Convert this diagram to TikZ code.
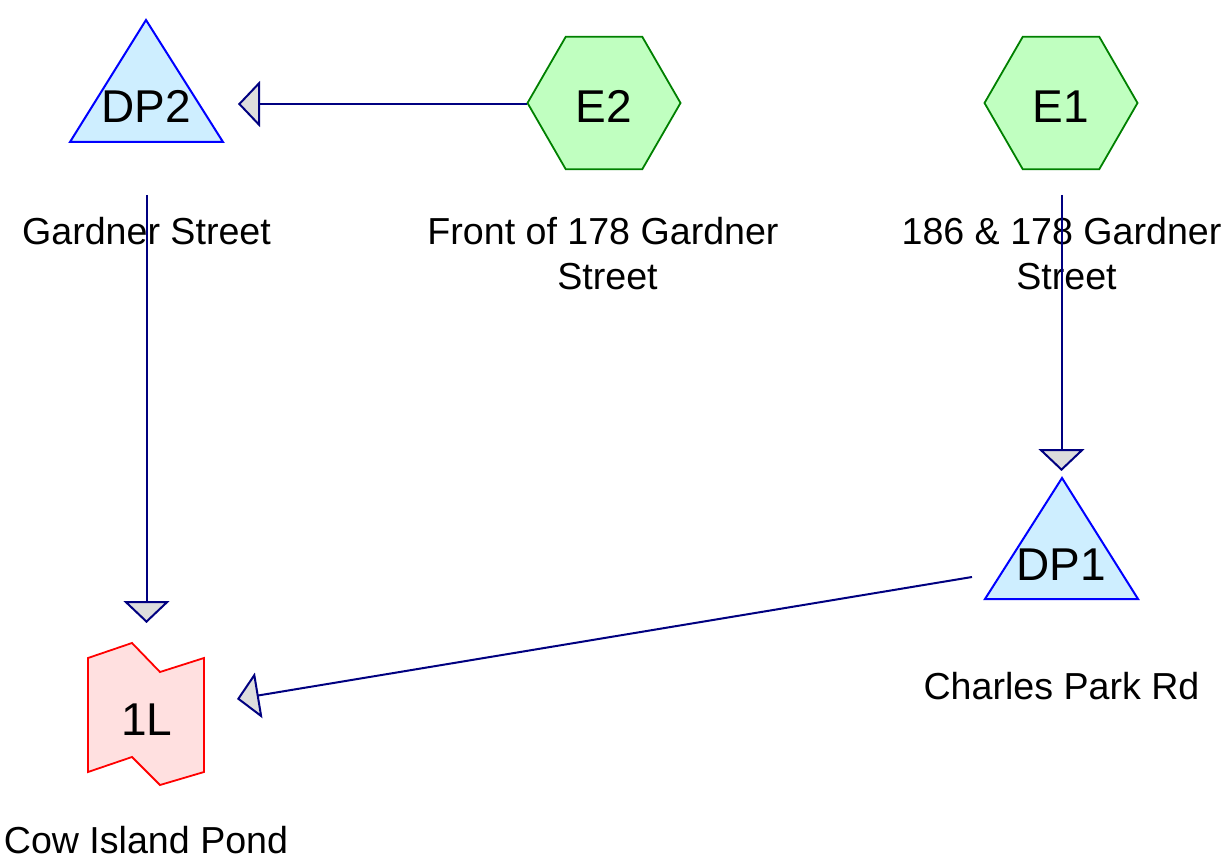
\documentclass[tikz,border=0pt]{standalone}
\usepackage{fontspec}
\setmainfont{Liberation Sans}
\usetikzlibrary{arrows.meta}
\definecolor{linknavy}{RGB}{0,0,128}
\definecolor{tipgray}{RGB}{221,221,221}
\definecolor{dpfill}{RGB}{206,238,255}
\definecolor{dpline}{RGB}{0,0,255}
\definecolor{exfill}{RGB}{192,255,192}
\definecolor{exline}{RGB}{0,128,0}
\definecolor{lkfill}{RGB}{255,224,224}
\definecolor{lkline}{RGB}{255,0,0}
\tikzset{
  dpshape/.style={draw=dpline, fill=dpfill, line width=2pt, line join=miter},
  exshape/.style={draw=exline, fill=exfill, line width=1.8pt},
  lkshape/.style={draw=lkline, fill=lkfill, line width=1.8pt},
  tag/.style={anchor=base, inner sep=0pt, font=\fontsize{46}{55}\selectfont},
  caption/.style={anchor=base, inner sep=0pt, align=center,
                  font=\fontsize{37.6}{45}\selectfont},
  link/.style={draw=linknavy, line width=2pt,
               -{Triangle[length=22pt, width=46pt, fill=tipgray]}}
}
\begin{document}
\begin{tikzpicture}[x=1pt, y=-1pt]
\useasboundingbox (0,0) rectangle (1225,866);

% design points (triangles)
\draw[dpshape] (146,20) -- (223,142) -- (70,142) -- cycle;
\draw[dpshape] (1062,478) -- (1138,599) -- (985,599) -- cycle;

% inflow hexagons
\draw[exshape] (604,103) +(0:76.5) -- +(60:76.5) -- +(120:76.5) -- +(180:76.5)
  -- +(240:76.5) -- +(300:76.5) -- cycle;
\draw[exshape] (1061,103) +(0:76.5) -- +(60:76.5) -- +(120:76.5) -- +(180:76.5)
  -- +(240:76.5) -- +(300:76.5) -- cycle;

% pond outlet (flag shape)
\draw[lkshape] (88,658) -- (132,643) -- (160,672) -- (204,658) -- (204,772)
  -- (160,785) -- (132,757) -- (88,772) -- cycle;

% node identifiers
\node[tag] (DP2) at (146,123) {DP2};
\node[tag] (DP1) at (1061,580) {DP1};
\node[tag] (E2) at (604,123) {E2};
\node[tag] (E1) at (1061,123) {E1};
\node[tag] (L1) at (147,735) {1L};

% location captions (base anchor sits on the last line)
\node[caption] (capDP2) at (146.5,245) {Gardner Street};
\node[caption] (capE2) at (603,290) {Front of 178 Gardner\\\hspace*{9pt}Street};
\node[caption] (capE1) at (1061.5,290) {186 \& 178 Gardner\\\hspace*{10pt}Street};
\node[caption] (capDP1) at (1061.5,699) {Charles Park Rd};
\node[caption] (capL1) at (146,853) {Cow Island Pond};

% connector ends
\coordinate (e2out) at (527,104);
\coordinate (dp2in) at (238,104);
\coordinate (dp2out) at (146.5,195);
\coordinate (l1inTop) at (146.5,623);
\coordinate (e1out) at (1061.5,195);
\coordinate (dp1in) at (1061.5,471);
\coordinate (dp1out) at (972,577);
\coordinate (l1inSide) at (237,699);

% connectors
\draw[link] (e2out) -- (dp2in);
\draw[link] (dp2out) -- (l1inTop);
\draw[link] (e1out) -- (dp1in);
\draw[link] (dp1out) -- (l1inSide);
\end{tikzpicture}
\end{document}
